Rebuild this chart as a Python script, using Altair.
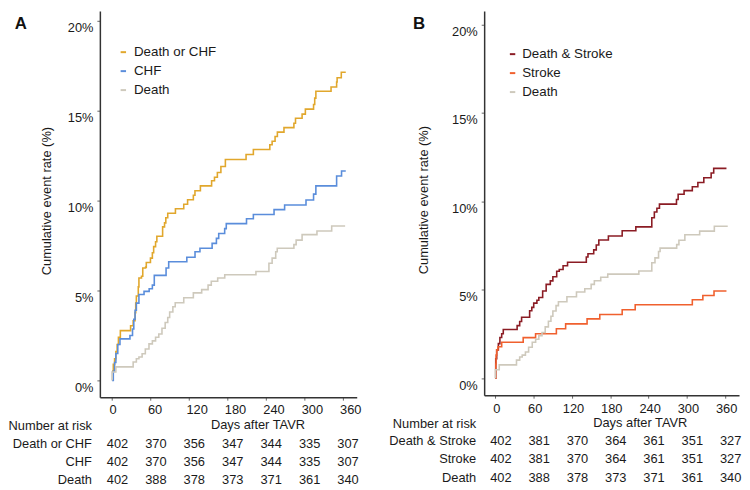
import altair as alt
import pandas as pd

FONT = "Liberation Sans"

X_TICKS = [0, 60, 120, 180, 240, 300, 360]
Y_TICKS = [0, 5, 10, 15, 20]

# ---------------- Panel A ----------------
A_NAMES = ["Death or CHF", "CHF", "Death"]
A_COLORS = ["#E1A72C", "#5A8DDB", "#CEC9BC"]

A_DCHF_DAYS = [0, 2, 4, 6, 8, 10, 13, 29, 33, 36, 37, 38, 41, 42, 46, 48, 52.5, 53.5,
               60, 63, 65, 68, 70, 79, 82, 84, 87, 99, 112, 118, 127, 129.5, 138, 155.5,
               160, 164.5, 170, 177, 209.3, 220.7, 246.4, 250, 254.6, 258.2, 268.5, 284,
               286.5, 296.8, 301.9, 314.7, 316.5, 318.3, 342, 350.7, 351.5, 358, 365]
A_DCHF_PCT = [0.5, 0.9, 1.2, 1.6, 2.0, 2.4, 2.77, 3.04, 3.32, 3.77, 4.3, 4.69, 5.2, 5.70,
              5.79, 6.25, 6.30, 6.56, 6.80, 7.1, 7.44, 7.71, 8.02, 8.54, 8.76, 9.05, 9.3,
              9.55, 9.8, 10.05, 10.3, 10.55, 10.82, 11.1, 11.3, 11.56, 11.9, 12.29, 12.56,
              12.84, 13.11, 13.3, 13.57, 13.81, 14.06, 14.3, 14.58, 14.81, 15.09, 15.35,
              15.7, 16.08, 16.32, 16.6, 16.83, 17.14, 17.14]

A_CHF_DAYS = [0, 2, 4, 6, 9, 12.4, 28, 32, 34, 36, 38, 42, 50, 58, 63, 66, 84.4, 88.5,
              116.8, 129.6, 137.3, 156.3, 163, 166.6, 175.9, 178.4, 210, 220.7, 253,
              269.5, 302.9, 314.7, 318.3, 350.7, 358.4, 365]
A_CHF_PCT = [0.0, 0.5, 1.0, 1.5, 2.0, 2.31, 2.5, 2.86, 3.4, 3.9, 4.3, 4.78, 4.95, 5.1,
             5.3, 5.84, 6.25, 6.6, 6.85, 7.16, 7.35, 7.62, 7.9, 8.17, 8.44, 8.72, 8.99,
             9.23, 9.5, 9.76, 10.03, 10.36, 10.82, 11.37, 11.65, 11.65]

DEATH_DAYS = [0, 0, 6, 33, 38, 42, 47, 52, 57.7, 63, 68, 73, 78, 83, 87, 90, 95, 98.7,
              112, 127, 140, 150, 155, 165, 176, 224.7, 245, 250, 255.6, 258, 284, 287.5,
              296.8, 320, 343, 364]
DEATH_PCT = [0, 0.47, 0.75, 1.02, 1.2, 1.3, 1.48, 1.75, 2.03, 2.2, 2.4, 2.58, 2.9, 3.22,
             3.5, 3.8, 4.1, 4.32, 4.6, 4.87, 5.05, 5.3, 5.51, 5.7, 5.88, 6.06, 6.52, 6.8,
             7.16, 7.35, 7.55, 7.8, 8.11, 8.31, 8.59, 8.59]

A_ROW_LABELS = ["Death or CHF", "CHF", "Death"]
A_RISK = [[402, 370, 356, 347, 344, 335, 307],
          [402, 370, 356, 347, 344, 335, 307],
          [402, 388, 378, 373, 371, 361, 340]]

# ---------------- Panel B ----------------
B_NAMES = ["Death & Stroke", "Stroke", "Death"]
B_COLORS = ["#8B1C24", "#F0602E", "#CEC9BC"]

B_DS_DAYS = [0, 0.5, 2, 4.6, 7, 9.8, 12.3, 34, 38, 41, 53.6, 57, 60, 65, 68, 74, 79.5,
             86, 90, 96, 100, 106, 113, 142.4, 145, 154, 158, 162, 177, 198.6, 220, 245,
             249, 253, 257, 283.7, 286.3, 295.6, 308.5, 317.2, 326.5, 338, 342, 362]
B_DS_PCT = [0, 1.1, 1.6, 1.95, 2.3, 2.51, 2.75, 2.97, 3.2, 3.44, 3.81, 4.0, 4.24, 4.4,
            4.56, 4.93, 5.3, 5.5, 5.73, 6.04, 6.14, 6.35, 6.55, 6.85, 7.03, 7.25, 7.53,
            7.81, 8.04, 8.33, 8.55, 9.07, 9.39, 9.6, 9.84, 10.1, 10.4, 10.6, 10.82,
            11.06, 11.33, 11.6, 11.86, 11.86]

B_STROKE_DAYS = [0, 0.5, 1, 2, 4, 9.8, 43.5, 62.9, 95.5, 110, 143.6, 163.5, 198.6, 219,
                 308.5, 325, 342.5, 362]
B_STROKE_PCT = [0, 0.8, 1.3, 1.6, 1.77, 2.03, 2.29, 2.51, 2.79, 3.07, 3.35, 3.6, 3.87,
                4.15, 4.43, 4.67, 4.93, 4.93]

B_ROW_LABELS = ["Death & Stroke", "Stroke", "Death"]
B_RISK = [[402, 381, 370, 364, 361, 351, 327],
          [402, 381, 370, 364, 361, 351, 327],
          [402, 388, 378, 373, 371, 361, 340]]

TXT = "#1a1a1a"


def const_text(txt, x, y, **kw):
    return alt.Chart(pd.DataFrame({"t": [txt]})).mark_text(font=FONT, **kw).encode(
        text="t:N", x=alt.value(x), y=alt.value(y))


def make_panel(series, names, colors, row_labels, risk, letter, c):
    rows = []
    for name, (days, pct) in zip(names, series):
        for i, (d, p) in enumerate(zip(days, pct)):
            rows.append({"day": d, "pct": p, "series": name, "i": i})
    df = pd.DataFrame(rows)
    W, H = c["w"], c["h"]

    x_enc = alt.X("day:Q",
                  scale=alt.Scale(domain=c["xdom"], nice=False, zero=False),
                  axis=alt.Axis(values=X_TICKS, title=None, format="d",
                                labelAlign=c["xalign"], labelOffset=c["xoff"],
                                labelFont=FONT, labelFontSize=13, labelColor=TXT,
                                domainColor="#333333", domainWidth=1.5,
                                tickColor="#666666", tickWidth=1,
                                tickSize=3, labelPadding=4, grid=False))
    y_enc = alt.Y("pct:Q",
                  scale=alt.Scale(domain=c["ydom"], nice=False, zero=False),
                  axis=alt.Axis(values=Y_TICKS, title=None,
                                labelExpr="datum.value + '%'", labelOffset=7,
                                labelFont=FONT, labelFontSize=13, labelColor=TXT,
                                domainColor="#333333", domainWidth=1.5,
                                tickColor="#666666", tickWidth=1,
                                tickSize=3, labelPadding=4, grid=False))
    lines = alt.Chart(df).mark_line(interpolate="step-after", strokeWidth=1.6).encode(
        x=x_enc, y=y_enc,
        order=alt.Order("i:Q"),
        color=alt.Color("series:N",
                        scale=alt.Scale(domain=names, range=colors),
                        legend=alt.Legend(orient="none", legendX=c["lx"], legendY=c["ly"],
                                          title=None, symbolType="stroke", symbolSize=30,
                                          symbolStrokeWidth=2, labelFontSize=13.5,
                                          labelFont=FONT, labelColor=TXT,
                                          rowPadding=4.2, labelOffset=c["lo"],
                                          padding=0)),
    )

    layers = [lines]
    for k, (lab, vals) in enumerate(zip(row_labels, risk)):
        tdf = pd.DataFrame({"day": X_TICKS, "n": vals})
        layers.append(
            alt.Chart(tdf).mark_text(font=FONT, fontSize=13, dx=5.5, baseline="middle",
                                     color=TXT).encode(
                x=x_enc, y=alt.value(H + c["rows"][k]), text="n:N"))
        layers.append(const_text(lab, -8, H + c["rows"][k], align="right",
                                 baseline="middle", fontSize=13, color=TXT))
    layers.append(const_text("Number at risk", -8, H + c["num"], align="right",
                             baseline="middle", fontSize=13, color=TXT))
    layers.append(const_text("Days after TAVR", c["daysx"], H + c["days"], align="center",
                             baseline="middle", fontSize=13, color=TXT))
    layers.append(const_text("Cumulative event rate (%)", c["ytx"], H / 2 - 3, angle=270,
                             align="center", baseline="middle", fontSize=13, color=TXT))
    layers.append(const_text(letter, c["letx"], 18, align="center", baseline="alphabetic",
                             fontSize=17, fontWeight="bold", color="#111111"))
    return alt.layer(*layers).properties(width=W, height=H)


cfgA = dict(w=260, h=391, xdom=[-18.97, 382.1], ydom=[-0.934, 20.55], xalign="left",
            xoff=-3, lx=17, ly=35, lo=4, rows=[47.7, 66, 84.3], num=29.3, days=28.5,
            daysx=160, ytx=-53, letx=-80)
cfgB = dict(w=258, h=389, xdom=[-17.65, 381.7], ydom=[-0.965, 20.76], xalign="center",
            xoff=1, lx=22, ly=37, lo=3, rows=[46.5, 64.6, 83.4], num=29.6, days=28.5,
            daysx=158, ytx=-61, letx=-66)

panelA = make_panel([(A_DCHF_DAYS, A_DCHF_PCT), (A_CHF_DAYS, A_CHF_PCT),
                     (DEATH_DAYS, DEATH_PCT)],
                    A_NAMES, A_COLORS, A_ROW_LABELS, A_RISK, "A", cfgA)
panelB = make_panel([(B_DS_DAYS, B_DS_PCT), (B_STROKE_DAYS, B_STROKE_PCT),
                     (DEATH_DAYS, DEATH_PCT)],
                    B_NAMES, B_COLORS, B_ROW_LABELS, B_RISK, "B", cfgB)

chart = alt.hconcat(panelA, panelB, spacing=129, bounds="flush").resolve_scale(
    x="independent", y="independent", color="independent"
).resolve_legend(color="independent").properties(
    padding=0, background="white"
).configure_view(stroke=None)

chart.save("out.html", embed_options={"renderer": "svg", "actions": False})
